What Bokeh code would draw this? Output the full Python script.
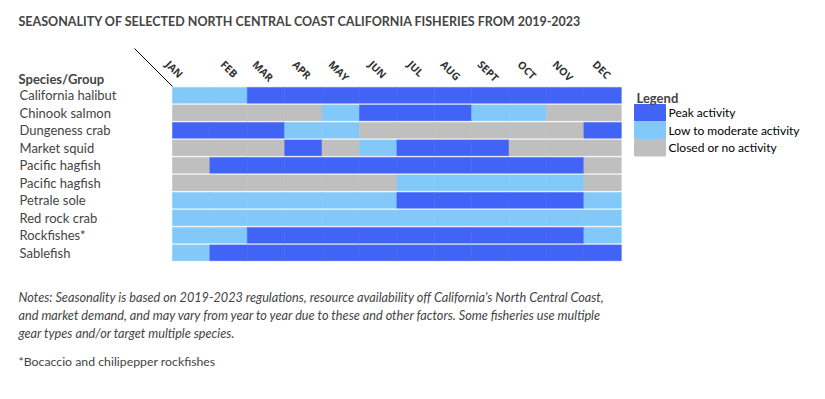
from bokeh.plotting import figure
from bokeh.models import Range1d, Label
from bokeh.embed import file_html
from bokeh.resources import INLINE

# ---------------- data ----------------
months = ["JAN", "FEB", "MAR", "APR", "MAY", "JUN", "JUL", "AUG", "SEPT", "OCT", "NOV", "DEC"]
species = ["California halibut", "Chinook salmon", "Dungeness crab", "Market squid",
           "Pacific hagfish", "Pacific hagfish", "Petrale sole", "Red rock crab",
           "Rockfishes*", "Sablefish"]
# P = peak, L = low to moderate, C = closed / no activity
california_halibut = ["L", "L", "P", "P", "P", "P", "P", "P", "P", "P", "P", "P"]
chinook_salmon     = ["C", "C", "C", "C", "L", "P", "P", "P", "L", "L", "C", "C"]
dungeness_crab     = ["P", "P", "P", "L", "L", "C", "C", "C", "C", "C", "C", "P"]
market_squid       = ["C", "C", "C", "P", "C", "L", "P", "P", "P", "C", "C", "C"]
pacific_hagfish_1  = ["C", "P", "P", "P", "P", "P", "P", "P", "P", "P", "P", "C"]
pacific_hagfish_2  = ["C", "C", "C", "C", "C", "C", "L", "L", "L", "L", "L", "C"]
petrale_sole       = ["L", "L", "L", "L", "L", "L", "P", "P", "P", "P", "P", "L"]
red_rock_crab      = ["L", "L", "L", "L", "L", "L", "L", "L", "L", "L", "L", "L"]
rockfishes         = ["L", "L", "P", "P", "P", "P", "P", "P", "P", "P", "P", "L"]
sablefish          = ["L", "P", "P", "P", "P", "P", "P", "P", "P", "P", "P", "P"]
activity = [california_halibut, chinook_salmon, dungeness_crab, market_squid,
            pacific_hagfish_1, pacific_hagfish_2, petrale_sole, red_rock_crab,
            rockfishes, sablefish]
legend_codes = ["P", "L", "C"]
legend_labels = ["Peak activity", "Low to moderate activity", "Closed or no activity"]

title = "SEASONALITY OF SELECTED NORTH CENTRAL COAST CALIFORNIA FISHERIES FROM 2019-2023"
notes = ["Notes: Seasonality is based on 2019-2023 regulations, resource availability off California's North Central Coast,",
         "and market demand, and may vary from year to year due to these and other factors. Some fisheries use multiple",
         "gear types and/or target multiple species."]
footnote = "*Bocaccio and chilipepper rockfishes"

# ---------------- styles ----------------
colors = {"P": "#4264F6", "L": "#82C9F9", "C": "#BFBFBF"}
FONT = "Lato"
W, H = 809, 383
GX0, GY0 = 172, 86          # px of grid top-left
CW, RH = 37.4, 17.5         # px per month / per row

def sx(px):
    return px

def sy(py):  # top-down px -> bokeh screen y (from bottom)
    return H - py

p = figure(width=W, height=H, output_backend="svg", toolbar_location=None,
           x_range=Range1d(-GX0 / CW, (W - GX0) / CW),
           y_range=Range1d((H - GY0) / RH, -GY0 / RH),
           min_border=0)
p.axis.visible = False
p.grid.visible = False
p.outline_line_color = None
p.background_fill_color = "white"

# cells
L, R, T, B, C = [], [], [], [], []
for i, row in enumerate(activity):
    for m, code in enumerate(row):
        L.append(m); R.append(m + 1); T.append(i + 0.05); B.append(i + 0.95)
        C.append(colors[code])
p.quad(left=L, right=R, top=T, bottom=B, fill_color=C, line_color=C, line_width=0.6)

# diagonal header line
p.line(x=[-(GX0 - 134) / CW, 0], y=[-(GY0 - 48) / RH, 0], line_color="black", line_width=1)

# legend swatches aligned with rows 1..3
lx0, lx1 = (634 - GX0) / CW, (665 - GX0) / CW
for k, code in enumerate(legend_codes):
    r = k + 1
    p.quad(left=[lx0], right=[lx1], top=[r + 0.03], bottom=[r + 0.97],
           fill_color=colors[code], line_color=colors[code])
    p.add_layout(Label(x=sx(668), x_units="screen", y=r + 0.5, text=legend_labels[k],
                       text_font=FONT, text_font_size="12px", text_baseline="middle",
                       text_color="black"))
p.add_layout(Label(x=sx(636), x_units="screen", y=sy(97), y_units="screen", text="Legend",
                   text_font=FONT, text_font_size="13px", text_font_style="bold",
                   text_baseline="middle"))

# title
p.add_layout(Label(x=sx(18), x_units="screen", y=sy(21), y_units="screen", text=title,
                   text_font=FONT, text_font_size="12.5px", text_font_style="bold",
                   text_baseline="middle"))

# species header
p.add_layout(Label(x=sx(18), x_units="screen", y=sy(78), y_units="screen", text="Species/Group",
                   text_font=FONT, text_font_size="13px", text_font_style="bold",
                   text_baseline="middle"))

# row labels
for i, name in enumerate(species):
    p.add_layout(Label(x=sx(19), x_units="screen", y=i + 0.5, text=name,
                       text_font=FONT, text_font_size="13px", text_baseline="middle"))

# month labels (rotated)
month_px = [172, 227, 259, 299, 335, 375, 414, 447, 484, 524, 559, 599]
for mx, mname in zip(month_px, months):
    p.add_layout(Label(x=sx(mx), x_units="screen", y=sy(57), y_units="screen", text=mname,
                       text_font="Open Sans", text_font_size="10.5px", text_font_style="bold",
                       text_color="#333333", angle=-45, angle_units="deg",
                       text_align="left", text_baseline="top"))

# notes
for j, line in enumerate(notes):
    p.add_layout(Label(x=sx(18), x_units="screen", y=sy(296 + 18 * j), y_units="screen", text=line,
                       text_font=FONT, text_font_size="12.7px", text_font_style="italic",
                       text_baseline="middle"))
p.add_layout(Label(x=sx(18), x_units="screen", y=sy(361), y_units="screen", text=footnote,
                   text_font=FONT, text_font_size="12.3px", text_baseline="middle"))

open("out.html", "w").write(file_html(p, INLINE))
